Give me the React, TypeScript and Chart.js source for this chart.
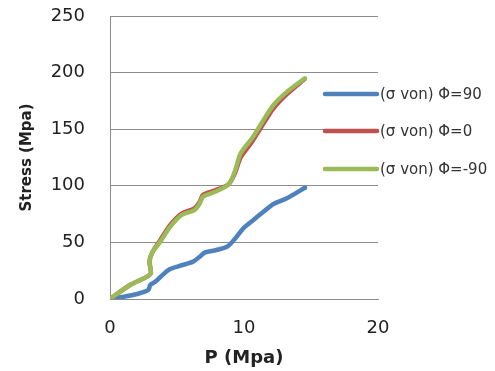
import React, { useEffect, useRef } from "react";
import { Chart, registerables } from "chart.js";

Chart.register(...registerables);

const seriesLabels = ["(σ von) Φ=90", "(σ von) Φ=0", "(σ von) Φ=-90"];
const seriesColors = ["#4f81bd", "#c0504d", "#9bbb59"];

const blueP = [0, 1.7, 2.86, 3.0, 3.4, 4.35, 5.2, 6.2, 6.7, 7.1, 7.95, 8.8, 9.45, 9.95, 10.7, 11.45, 12.2, 13.2, 14.55];
const blueS = [0, 3.5, 8, 12.4, 15.5, 25.6, 29.2, 33, 37.4, 41.2, 43.3, 46.8, 55, 62.4, 69.8, 77, 83.9, 89, 98.3];

const redP = [0, 1.5, 2.8, 3.05, 2.95, 3.15, 3.75, 4.5, 5.35, 6.3, 6.7, 6.95, 7.85, 8.85, 9.35, 9.75, 10.6, 11.45, 12.2, 13.2, 14.5];
const redS = [0, 12.4, 20, 23, 33, 41, 52, 65.5, 75.5, 80, 86, 92, 96, 101.5, 112, 125, 139, 155, 168.5, 181, 194];

const greenP = [0, 1.5, 2.8, 3.05, 2.95, 3.15, 3.75, 4.5, 5.35, 6.3, 6.7, 6.95, 7.85, 8.85, 9.35, 9.75, 10.6, 11.45, 12.2, 13.2, 14.55];
const greenS = [0, 12.4, 20, 23, 33, 41, 50.6, 63.9, 74.2, 78.6, 84.5, 90.4, 94.8, 101.3, 114, 128.7, 142, 158, 171.4, 183, 195];

const xTicks = [0, 10, 20];
const yTicks = [0, 50, 100, 150, 200, 250];

const toPoints = (xs: number[], ys: number[]) => xs.map((x, i) => ({ x, y: ys[i] }));

const legendPlugin = {
  id: "customLegend",
  afterDraw(chart: any) {
    const ctx = chart.ctx;
    const ys = [94, 131, 169];
    ctx.save();
    seriesLabels.forEach((label, i) => {
      ctx.strokeStyle = seriesColors[i];
      ctx.lineWidth = 4.5;
      ctx.lineCap = "round";
      ctx.beginPath();
      ctx.moveTo(325, ys[i]);
      ctx.lineTo(377, ys[i]);
      ctx.stroke();
      ctx.fillStyle = "#333333";
      ctx.font = "15px 'DejaVu Sans'";
      ctx.textBaseline = "middle";
      ctx.textAlign = "left";
      ctx.fillText(label, 380, ys[i] + 1);
    });
    ctx.restore();
  },
};

export default function App() {
  const ref = useRef<HTMLCanvasElement>(null);
  useEffect(() => {
    if (!ref.current) return;
    const chart = new Chart(ref.current, {
      type: "line",
      data: {
        datasets: [
          { label: seriesLabels[0], data: toPoints(blueP, blueS), borderColor: seriesColors[0], order: 2 },
          { label: seriesLabels[1], data: toPoints(redP, redS), borderColor: seriesColors[1], order: 1 },
          { label: seriesLabels[2], data: toPoints(greenP, greenS), borderColor: seriesColors[2], order: 0 },
        ].map((d) => ({
          ...d,
          borderWidth: 4.5,
          pointRadius: 0,
          tension: 0.3,
          fill: false,
          borderCapStyle: "round" as const,
          borderJoinStyle: "round" as const,
        })),
      },
      options: {
        responsive: false,
        animation: false,
        layout: { autoPadding: false, padding: { top: 16, right: 117, left: 0, bottom: 0 } },
        plugins: { legend: { display: false }, tooltip: { enabled: false } },
        scales: {
          x: {
            type: "linear",
            min: 0,
            max: 20,
            afterBuildTicks: (s: any) => {
              s.ticks = xTicks.map((v) => ({ value: v }));
            },
            afterFit: (s: any) => {
              s.height = 72;
              s.paddingLeft = 0;
              s.paddingRight = 0;
            },
            grid: { display: false, drawTicks: false },
            border: { display: true, color: "#8c8c8c", width: 1 },
            ticks: { color: "#222", padding: 19, font: { family: "'DejaVu Sans'", size: 18 }, maxRotation: 0 },
            title: {
              display: true,
              text: "P (Mpa)",
              color: "#222",
              font: { family: "'DejaVu Sans'", size: 18, weight: "bold" },
              padding: { top: 0, bottom: 2 },
            },
          },
          y: {
            type: "linear",
            min: 0,
            max: 250,
            afterBuildTicks: (s: any) => {
              s.ticks = yTicks.map((v) => ({ value: v }));
            },
            afterFit: (s: any) => {
              s.width = 110;
              s.paddingTop = 0;
              s.paddingBottom = 0;
            },
            grid: { color: "#8c8c8c", drawTicks: false, lineWidth: 1 },
            border: { display: true, color: "#8c8c8c", width: 1 },
            ticks: { color: "#222", padding: 25, font: { family: "'DejaVu Sans'", size: 18 } },
            title: {
              display: true,
              text: "Stress (Mpa)",
              color: "#222",
              font: { family: "'DejaVu Sans'", size: 15, weight: "bold" },
              padding: { top: 18, bottom: 0 },
            },
          },
        },
      },
      plugins: [legendPlugin],
    });
    return () => chart.destroy();
  }, []);
  return (
    <div style={{ position: "fixed", left: 0, top: 0, width: 495, height: 371, background: "#fff" }}>
      <canvas ref={ref} width={495} height={371} />
    </div>
  );
}
